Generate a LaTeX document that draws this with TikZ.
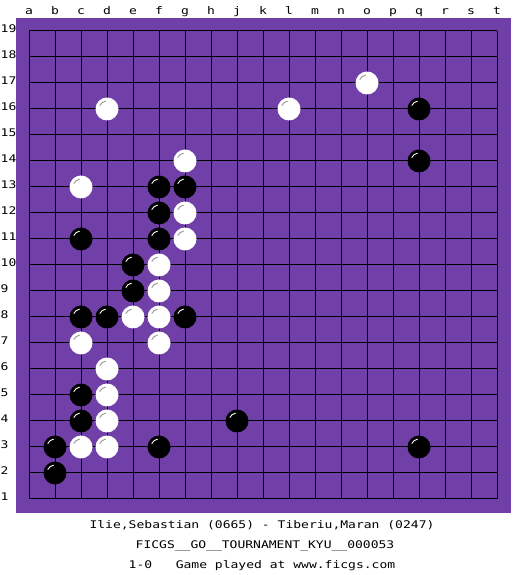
\documentclass[tikz,border=0pt]{standalone}
\usepackage{fontspec}
\newfontfamily\monof[FakeStretch=1.24]{DejaVu Sans Mono}
\definecolor{board}{RGB}{112,64,168}
\definecolor{shine}{RGB}{150,150,150}
\begin{document}
\begin{tikzpicture}[x=1pt,y=1pt,
  stone/.style={circle,inner sep=0pt,minimum size=23pt},
  bstone/.style={stone,fill=black,path picture={\draw[white,line width=0.9pt] ([shift={(100:8)}]path picture bounding box.center) arc[start angle=100,end angle=155,radius=8];}},
  wstone/.style={stone,fill=white,path picture={\draw[shine,line width=0.9pt] ([shift={(100:8)}]path picture bounding box.center) arc[start angle=100,end angle=155,radius=8];}},
  lbl/.style={font=\monof\fontsize{10.5}{12}\selectfont,inner sep=0pt},
  gridline/.style={black,line width=1pt}]
\useasboundingbox (0,0) rectangle (525,575);
\fill[white] (0,0) rectangle (525,575);
\fill[board] (16,62) rectangle (511,557);
% grid
\foreach \i in {0,...,18} {
  \draw[gridline] ({29+26*\i},76) -- ({29+26*\i},544);
  \draw[gridline] (29,{76+26*\i}) -- (497,{76+26*\i});
}
% column labels
\foreach \l [count=\i from 0] in {a,b,c,d,e,f,g,h,j,k,l,m,n,o,p,q,r,s,t}
  \node[lbl,anchor=base] (col-\l) at ({29+26*\i},560) {\l};
% row labels
\foreach \r in {1,...,19}
  \node[lbl,anchor=base west] (row-\r) at (0.5,{48+26*\r}) {\r};
% black stones
\foreach \n/\c/\r in {q/15/16,q/15/14,f/5/13,g/6/13,f/5/12,c/2/11,f/5/11,e/4/10,e/4/9,c/2/8,d/3/8,g/6/8,c/2/5,c/2/4,j/8/4,b/1/3,f/5/3,q/15/3,b/1/2}
  \node[bstone] (b-\n\r) at ({29+26*\c},{50+26*\r}) {};
% white stones
\foreach \n/\c/\r in {o/13/17,d/3/16,l/10/16,g/6/14,c/2/13,g/6/12,g/6/11,f/5/10,f/5/9,e/4/8,f/5/8,c/2/7,f/5/7,d/3/6,d/3/5,d/3/4,c/2/3,d/3/3}
  \node[wstone] (w-\n\r) at ({29+26*\c},{50+26*\r}) {};
% captions
\node[lbl,anchor=base] (players) at (262,46) {Ilie,Sebastian (0665) - Tiberiu,Maran (0247)};
\node[lbl,anchor=base] (event) at (265,26) {FICGS\_\_GO\_\_TOURNAMENT\_KYU\_\_000053};
\node[lbl,anchor=base] (result) at (262,6.5) {1-0\ \ \ Game played at www.ficgs.com};
\end{tikzpicture}
\end{document}
